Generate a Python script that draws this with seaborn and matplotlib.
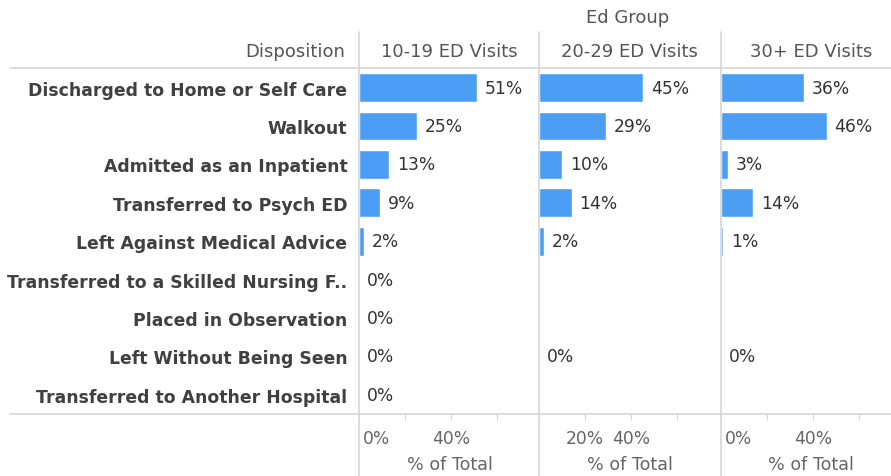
import numpy as np
import pandas as pd
import matplotlib
matplotlib.use("Agg")
import matplotlib.pyplot as plt
from matplotlib.lines import Line2D
from matplotlib import transforms
import seaborn as sns

# ---- data ---------------------------------------------------------------
dispositions = [
    "Discharged to Home or Self Care",
    "Walkout",
    "Admitted as an Inpatient",
    "Transferred to Psych ED",
    "Left Against Medical Advice",
    "Transferred to a Skilled Nursing F..",
    "Placed in Observation",
    "Left Without Being Seen",
    "Transferred to Another Hospital",
]
ed_groups = ["10-19 ED Visits", "20-29 ED Visits", "30+ ED Visits"]
pct_10_19 = [51, 25, 13, 9, 2, 0, 0, 0, 0]
pct_20_29 = [45, 29, 10, 14, 2, None, None, 0, None]
pct_30_plus = [36, 46, 3, 14, 1, None, None, 0, None]
tick_values = [0, 20, 40, 60]
tick_labels = {
    "10-19 ED Visits": ["0%", "", "40%", ""],
    "20-29 ED Visits": ["", "20%", "40%", ""],
    "30+ ED Visits": ["0%", "", "40%", ""],
}

df = pd.DataFrame({
    "disposition": dispositions * 3,
    "group": np.repeat(ed_groups, len(dispositions)),
    "pct": pd.to_numeric(pd.Series(pct_10_19 + pct_20_29 + pct_30_plus), errors="coerce"),
}).dropna(subset=["pct"])

# ---- styling ------------------------------------------------------------
sns.set_theme(style="white")
plt.rcParams["font.family"] = ["DejaVu Sans"]

BLUE = "#4c9ef5"
GRID = "#d6d6d6"
HEAD = "#555555"
TICK = "#666666"
LABEL = "#404040"

W, H = 891, 477
fig = plt.figure(figsize=(W / 100, H / 100), dpi=100)
fig.patch.set_facecolor("white")


def fx(x):
    return x / W


def fy(y):
    return 1 - y / H


panel_left = [359.3, 539.3, 720.7]
panel_w = 180.5
top_px, bottom_px = 69.3, 415.0
px_per_pct = 2.30
xmax = panel_w / px_per_pct

axes = []
for i, (grp, left) in enumerate(zip(ed_groups, panel_left)):
    ax = fig.add_axes([fx(left), fy(bottom_px), panel_w / W, (bottom_px - top_px) / H])
    sub = df[df["group"] == grp]
    sns.barplot(data=sub, x="pct", y="disposition", order=dispositions,
                color=BLUE, saturation=1, width=0.75, errorbar=None, ax=ax)
    ax.set_xlim(0, xmax)
    ax.set_ylim(len(dispositions) - 0.5, -0.5)
    for s in ax.spines.values():
        s.set_visible(False)
    ax.set_xlabel("")
    ax.set_ylabel("")

    # value labels next to each bar
    pos = {d: k for k, d in enumerate(dispositions)}
    for _, row in sub.iterrows():
        ax.annotate(f"{row['pct']:.0f}%", xy=(row["pct"], pos[row["disposition"]]),
                    xytext=(5.8, 0), textcoords="offset points",
                    ha="left", va="center", fontsize=12.3, color="#333333")

    # x axis ticks and labels
    ax.set_xticks(tick_values)
    ax.set_xticklabels([])
    ax.tick_params(axis="x", bottom=True, length=4.3, width=0.8, color=GRID, pad=0)
    blend = transforms.blended_transform_factory(ax.transData, ax.transAxes)
    ylab = -(439 - bottom_px) / (bottom_px - top_px)
    for v, lab in zip(tick_values, tick_labels[grp]):
        if not lab:
            continue
        if v == 0:
            ax.text(v, ylab, lab,
                    transform=blend + transforms.ScaledTranslation(4 / 100, 0, fig.dpi_scale_trans),
                    ha="left", va="center", fontsize=12.3, color=TICK)
        else:
            ax.text(v, ylab, lab, transform=blend,
                    ha="center", va="center", fontsize=12.3, color=TICK)
    ax.text(0.5, -(465 - bottom_px) / (bottom_px - top_px), "% of Total",
            transform=ax.transAxes, ha="center", va="center", fontsize=12.6, color=TICK)

    if i == 0:
        ax.tick_params(axis="y", left=False, length=0, pad=8.6)
        for t in ax.get_yticklabels():
            t.set_fontweight("bold")
            t.set_fontsize(12.4)
            t.set_color(LABEL)
    else:
        ax.set_yticklabels([])
        ax.tick_params(axis="y", left=False, length=0)

    # column header
    fig.text(fx(left + panel_w / 2), fy(52), grp, ha="center", va="center",
             fontsize=13, color=HEAD)
    axes.append(ax)

# row / column header texts
fig.text(fx(345), fy(52), "Disposition", ha="right", va="center", fontsize=13, color=HEAD)
fig.text(fx(628), fy(18), "Ed Group", ha="center", va="center", fontsize=13, color=HEAD)

# table rules
for y in (top_px, bottom_px):
    fig.add_artist(Line2D([fx(10), 1], [fy(y), fy(y)], color=GRID, lw=1.2))
for left in panel_left:
    fig.add_artist(Line2D([fx(left), fx(left)], [fy(33), 0], color=GRID, lw=1.2))

fig.savefig("out.png", dpi=100, facecolor="white")
